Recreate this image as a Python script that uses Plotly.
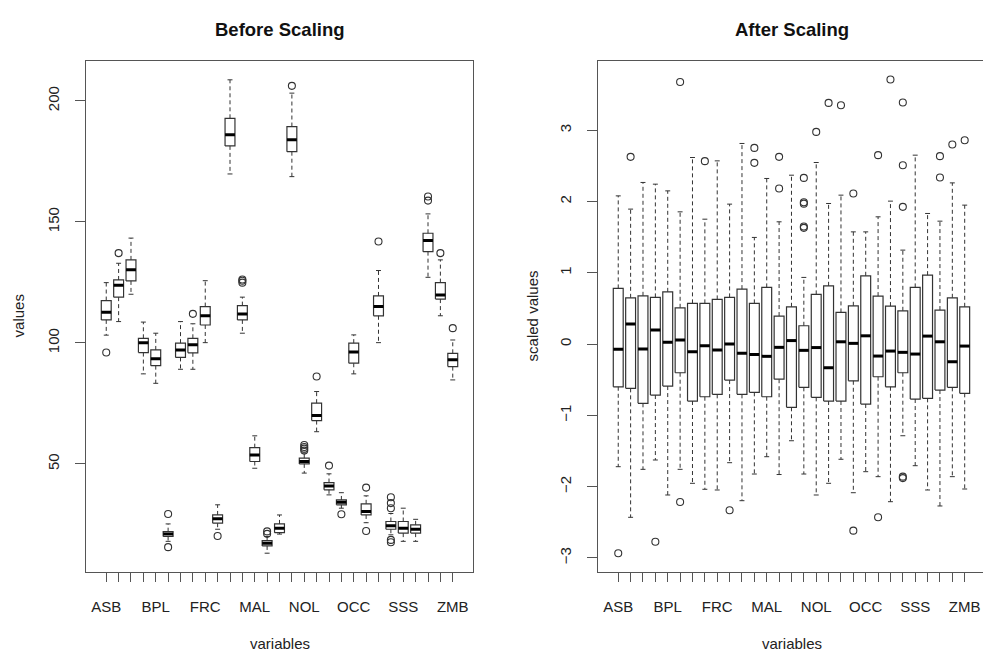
import plotly.graph_objects as go

# ---------------- data ----------------
positions = list(range(1, 30))
tick_labels = ["ASB", "", "", "", "BPL", "", "", "", "FRC", "", "", "", "MAL", "", "", "",
               "NOL", "", "", "", "OCC", "", "", "", "SSS", "", "", "", "ZMB"]

# Before scaling (raw values)
before_low = [103.2, 108.8, 120.1, 87.2, 83.3, 18.0, 89.1, 89.1, 100.1, 23.0, 169.8, 104.0, 48.2, 13.1, 21.0,
              168.7, 46.2, 63.3, 37.2, 31.7, 87.2, 25.7, 100.1, 20.7, 18.0, 18.0, 127.1, 111.2, 84.7]
before_q1 = [109.5, 118.9, 125.6, 96.0, 90.6, 20.0, 94.0, 95.9, 107.4, 25.5, 181.4, 109.5, 51.0, 16.1, 21.6,
             179.0, 50.0, 67.9, 39.3, 33.1, 91.6, 28.9, 111.2, 23.0, 21.4, 21.4, 137.7, 118.1, 90.2]
before_med = [112.7, 123.8, 130.2, 100.1, 93.4, 21.0, 97.1, 99.2, 111.2, 27.3, 186.0, 111.9, 53.7, 17.2, 23.4,
              183.9, 51.0, 70.0, 40.9, 34.2, 96.2, 30.3, 115.0, 24.4, 23.4, 23.0, 142.3, 119.8, 93.0]
before_q3 = [117.5, 126.0, 134.3, 101.9, 97.1, 22.0, 99.9, 101.9, 115.0, 28.9, 192.8, 115.4, 56.7, 18.3, 25.2,
             189.4, 52.4, 75.1, 42.3, 35.1, 99.9, 33.5, 119.4, 26.2, 26.2, 24.8, 145.3, 124.9, 95.7]
before_high = [124.9, 132.9, 143.3, 108.6, 104.0, 25.2, 108.8, 107.9, 125.7, 33.1, 208.7, 118.9, 61.6, 20.0, 28.9,
               203.2, 54.5, 79.9, 45.9, 38.1, 103.3, 36.8, 129.9, 29.5, 31.7, 27.1, 153.3, 134.3, 101.2]
before_out = [[96.0], [137.1], [], [], [], [29.3, 15.6], [], [112.0], [], [20.2], [], [124.9, 125.7, 126.2],
              [], [21.1, 22.1], [], [206.2], [55.5, 56.3, 57.0, 57.8], [86.1], [49.3], [29.2], [],
              [40.2, 22.3], [141.9], [31.7, 33.8, 36.2, 18.6, 17.6], [], [], [158.8, 160.5], [137.1], [106.1]]

# After scaling (standardised values)
after_low = [-1.720, -2.430, -1.757, -1.626, -2.117, -1.757, -1.953, -2.037, -2.047, -1.664, -2.197, -1.823,
             -1.580, -1.830, -1.356, -1.823, -2.117, -1.953, -1.616, -2.085, -1.790, -1.860, -2.211, -1.286,
             -1.706, -2.047, -2.271, -1.860, -2.033]
after_q1 = [-0.599, -0.621, -0.831, -0.715, -0.589, -0.402, -0.799, -0.739, -0.705, -0.505, -0.705, -0.677,
            -0.739, -0.493, -0.887, -0.607, -0.747, -0.799, -0.799, -0.515, -0.841, -0.458, -0.599, -0.402,
            -0.771, -0.761, -0.645, -0.607, -0.691]
after_med = [-0.074, 0.280, -0.070, 0.196, 0.024, 0.056, -0.108, -0.024, -0.084, 0.000, -0.130, -0.147,
             -0.172, -0.046, 0.049, -0.088, -0.049, -0.332, 0.032, 0.010, 0.116, -0.168, -0.098, -0.116,
             -0.140, 0.112, 0.032, -0.248, -0.028]
after_q3 = [0.781, 0.649, 0.677, 0.655, 0.733, 0.509, 0.571, 0.571, 0.627, 0.655, 0.771, 0.571, 0.795,
            0.393, 0.523, 0.257, 0.697, 0.817, 0.444, 0.537, 0.958, 0.673, 0.533, 0.467, 0.795, 0.967,
            0.477, 0.649, 0.523]
after_high = [2.079, 1.893, 2.267, 2.243, 2.149, 1.855, 2.617, 1.752, 2.570, 1.963, 2.814, 1.496, 2.323,
              1.715, 2.369, 0.935, 2.547, 1.972, 2.089, 1.574, 1.574, 1.785, 2.005, 1.318, 2.650, 1.832,
              1.724, 2.261, 1.949]
after_out = [[-2.934], [2.626], [], [-2.772], [], [3.677, -2.215], [], [2.566], [], [-2.331], [],
             [2.752, 2.542], [], [2.626, 2.183], [], [2.331, 1.990, 1.970, 1.650, 1.630], [2.976], [3.383],
             [3.351], [2.113, -2.617], [], [2.650, -2.430], [3.711], [3.388, 2.509, 1.925, -1.860, -1.880],
             [], [], [2.636, 2.337], [2.800], [2.860]]

# ---------------- styling ----------------
W, H = 983, 652
FONT = "Liberation Sans, Arial, Helvetica, sans-serif"
LINE = "#333333"
FRAME = "#555555"
HALF_BOX = 0.4
HALF_STAPLE = 0.2


def px_x(p):
    return p / W


def px_y(p):
    return 1 - p / H


def add_boxplot(fig, xa, ya, low, q1, med, q3, high, outs):
    wx, wy, sx, sy, bx, by, mx, my, ox, oy = [], [], [], [], [], [], [], [], [], []
    for i, p in enumerate(positions):
        wx += [p, p, None, p, p, None]
        wy += [q3[i], high[i], None, q1[i], low[i], None]
        sx += [p - HALF_STAPLE, p + HALF_STAPLE, None, p - HALF_STAPLE, p + HALF_STAPLE, None]
        sy += [high[i], high[i], None, low[i], low[i], None]
        bx += [p - HALF_BOX, p + HALF_BOX, p + HALF_BOX, p - HALF_BOX, p - HALF_BOX, None]
        by += [q1[i], q1[i], q3[i], q3[i], q1[i], None]
        mx += [p - HALF_BOX, p + HALF_BOX, None]
        my += [med[i], med[i], None]
        for v in outs[i]:
            ox.append(p)
            oy.append(v)
    common = dict(xaxis=xa, yaxis=ya, hoverinfo="skip", showlegend=False)
    fig.add_trace(go.Scatter(x=wx, y=wy, mode="lines",
                             line=dict(color=LINE, width=1, dash="4px,3px"), **common))
    fig.add_trace(go.Scatter(x=sx, y=sy, mode="lines", line=dict(color=LINE, width=1), **common))
    fig.add_trace(go.Scatter(x=bx, y=by, mode="lines", line=dict(color=LINE, width=1.2), **common))
    fig.add_trace(go.Scatter(x=mx, y=my, mode="lines", line=dict(color="#000000", width=3), **common))
    fig.add_trace(go.Scatter(x=ox, y=oy, mode="markers",
                             marker=dict(symbol="circle-open", size=7, color=LINE, line=dict(width=1.1)),
                             **common))


fig = go.Figure()
add_boxplot(fig, "x", "y", before_low, before_q1, before_med, before_q3, before_high, before_out)
add_boxplot(fig, "x2", "y2", after_low, after_q1, after_med, after_q3, after_high, after_out)

tickfont = dict(family=FONT, size=15, color="#222222")
ydom = [px_y(572.2), px_y(60.7)]
xcommon = dict(tickmode="array", tickvals=positions, ticktext=tick_labels, ticks="outside", ticklen=9,
               tickcolor=FRAME, showline=True, linecolor=FRAME, linewidth=1, showgrid=False,
               zeroline=False, tickfont=tickfont, ticklabelstandoff=12)
ycommon = dict(ticks="outside", ticklen=10, tickcolor=FRAME, showline=True, linecolor=FRAME, linewidth=1,
               showgrid=False, zeroline=False, tickfont=tickfont, tickangle=-90, ticklabelstandoff=10)

fig.update_layout(
    width=W, height=H, margin=dict(l=0, r=0, t=0, b=0),
    paper_bgcolor="white", plot_bgcolor="white",
    xaxis=dict(domain=[px_x(85.7), px_x(473.3)], range=[-0.66, 30.66], anchor="y", mirror=True, **xcommon),
    yaxis=dict(domain=ydom, range=[5.25, 216.6], anchor="x", mirror=True,
               tickvals=[50, 100, 150, 200], **ycommon),
    xaxis2=dict(domain=[px_x(597.7), 1.0], range=[-0.66, 29 + (983 - 964.7) / 12.375], anchor="y2",
                mirror=True, **xcommon),
    yaxis2=dict(domain=ydom, range=[-3.2, 3.975], anchor="x2", mirror=False,
                tickvals=[-3, -2, -1, 0, 1, 2, 3], **ycommon),
)

ann = []
titlefont = dict(family=FONT, size=18.5, color="#111111")
labfont = dict(family=FONT, size=15, color="#222222")
ann.append(dict(text="<b>Before Scaling</b>", x=px_x(279.5), y=px_y(30), font=titlefont))
ann.append(dict(text="<b>After Scaling</b>", x=px_x(791.5), y=px_y(30), font=titlefont))
ann.append(dict(text="variables", x=px_x(279.5), y=px_y(643), font=labfont))
ann.append(dict(text="variables", x=px_x(791.5), y=px_y(643), font=labfont))
ann.append(dict(text="values", x=px_x(18), y=px_y(316.4), textangle=-90, font=labfont))
ann.append(dict(text="scaled values", x=px_x(532), y=px_y(316.4), textangle=-90, font=labfont))
for a in ann:
    a.update(xref="paper", yref="paper", showarrow=False, xanchor="center", yanchor="middle")
fig.update_layout(annotations=ann)

fig.write_html("out.html")
